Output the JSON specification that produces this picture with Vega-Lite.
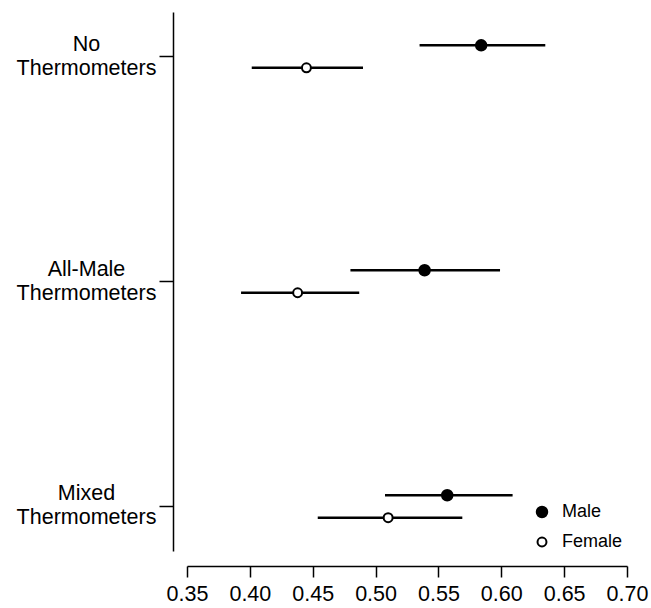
{
  "$schema": "https://vega.github.io/schema/vega-lite/v6.json",
  "autosize": "none",
  "width": 440,
  "height": 539,
  "padding": {"left": 187, "top": 12, "right": 24, "bottom": 57},
  "background": "white",
  "config": {
    "view": {"stroke": null},
    "font": "Liberation Sans",
    "axis": {"domainColor": "black", "tickColor": "black", "labelColor": "black", "grid": false, "domainWidth": 1.5, "tickWidth": 1.5, "labelFont": "Liberation Sans"},
    "legend": {"labelFont": "Liberation Sans", "labelColor": "black"}
  },
  "data": {
    "values": [
      {"condition": "No Thermometers", "gender": "Male", "est": 0.584, "lo": 0.535, "hi": 0.635},
      {"condition": "No Thermometers", "gender": "Female", "est": 0.445, "lo": 0.4015, "hi": 0.490},
      {"condition": "All-Male Thermometers", "gender": "Male", "est": 0.539, "lo": 0.480, "hi": 0.599},
      {"condition": "All-Male Thermometers", "gender": "Female", "est": 0.438, "lo": 0.393, "hi": 0.487},
      {"condition": "Mixed Thermometers", "gender": "Male", "est": 0.557, "lo": 0.5075, "hi": 0.609},
      {"condition": "Mixed Thermometers", "gender": "Female", "est": 0.510, "lo": 0.454, "hi": 0.569}
    ]
  },
  "encoding": {
    "y": {
      "field": "condition", "type": "nominal",
      "sort": ["No Thermometers", "All-Male Thermometers", "Mixed Thermometers"],
      "scale": {"type": "band", "paddingInner": 0.8, "paddingOuter": 0.098},
      "axis": {"title": null, "offset": 14, "tickSize": 14, "labelPadding": 73, "labelAlign": "center", "labelBaseline": "middle", "labelLineHeight": 24, "labelOffset": -12, "labelExpr": "split(datum.label, ' ')", "labelFontSize": 21.5, "bandPosition": 0.5}
    },
    "yOffset": {"field": "gender", "type": "nominal", "sort": ["Male", "Female"], "scale": {"domain": ["Male", "Female"]}}
  },
  "layer": [
    {
      "mark": {"type": "rule", "color": "black", "strokeWidth": 2.4},
      "encoding": {
        "x": {"field": "lo", "type": "quantitative", "scale": {"domain": [0.35, 0.7], "nice": false, "zero": false},
          "axis": {"title": null, "values": [0.35, 0.4, 0.45, 0.5, 0.55, 0.6, 0.65, 0.7], "format": ".2f", "labelFontSize": 21.5, "tickSize": 11, "offset": 15, "labelPadding": 6, "labelFlush": false, "labelOverlap": false}},
        "x2": {"field": "hi"}
      }
    },
    {
      "mark": {"type": "point", "stroke": "black", "strokeWidth": 2, "opacity": 1, "filled": false},
      "encoding": {
        "x": {"field": "est", "type": "quantitative"},
        "fill": {"field": "gender", "type": "nominal", "scale": {"domain": ["Male", "Female"], "range": ["black", "white"]},
          "legend": {"orient": "none", "legendX": 346, "legendY": 491, "title": null, "labelFontSize": 18, "symbolStrokeColor": "black", "symbolStrokeWidth": 2, "rowPadding": 11, "labelOffset": 11, "padding": 0, "symbolType": "circle"}},
        "size": {"field": "gender", "type": "nominal", "scale": {"domain": ["Male", "Female"], "range": [110, 80]}}
      }
    }
  ]
}
